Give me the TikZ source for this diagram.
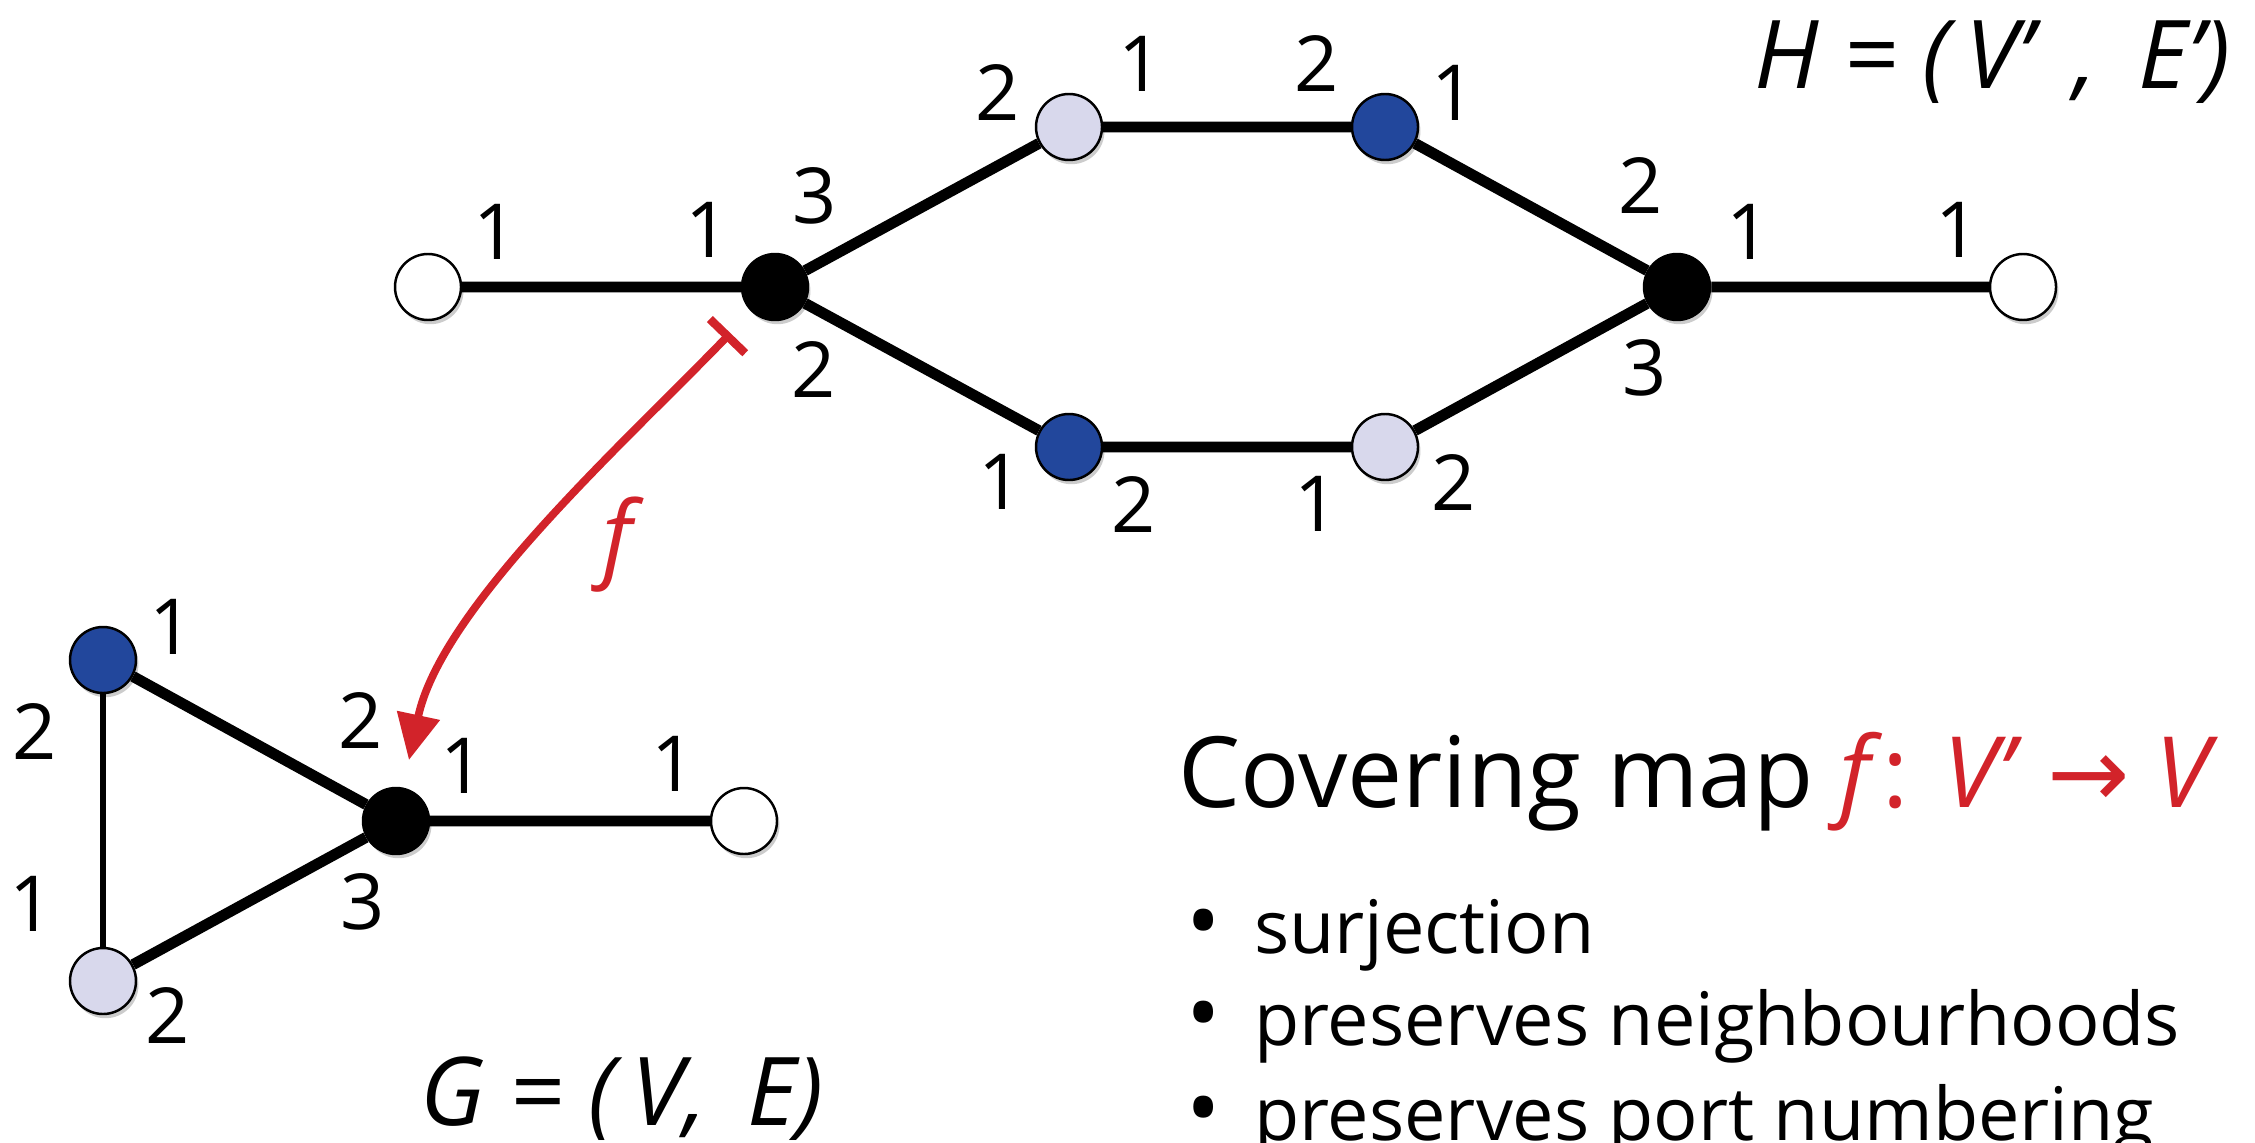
\documentclass[tikz,border=0pt]{standalone}
\usepackage{fontspec}
\setmainfont{Open Sans}
\newfontfamily\arrowfont{DejaVu Sans}
\usepackage{tikz}
\usetikzlibrary{arrows.meta}
\usetikzlibrary{shadows}
\definecolor{mapred}{RGB}{210,35,42}
\definecolor{portblue}{RGB}{34,71,156}
\definecolor{portlilac}{RGB}{216,216,236}
\newcommand{\portsize}{\fontsize{22}{26}\selectfont}
\newcommand{\namesize}{\fontsize{27}{32}\selectfont\itshape}
\tikzset{
  vtx/.style={circle,draw,line width=0.7pt,minimum size=0.66cm,inner sep=0pt,
    drop shadow={shadow xshift=0.7pt,shadow yshift=-1.2pt,opacity=0.4}},
  wvtx/.style={vtx,fill=white},
  bvtx/.style={vtx,fill=black},
  dvtx/.style={vtx,fill=portblue},
  lvtx/.style={vtx,fill=portlilac},
  port/.style={inner sep=0pt,font=\portsize},
  link/.style={line width=3.1pt},
  thinlink/.style={line width=1.8pt}
}

\begin{document}
\begin{tikzpicture}
\useasboundingbox (0,0) rectangle (22.55,11.42);
\node[wvtx] (hw1) at (4.28,8.55) {};
\node[bvtx] (hb1) at (7.75,8.55) {};
\node[lvtx] (hl1) at (10.69,10.15) {};
\node[dvtx] (hd1) at (13.85,10.15) {};
\node[dvtx] (hd2) at (10.69,6.95) {};
\node[lvtx] (hl2) at (13.85,6.95) {};
\node[bvtx] (hb2) at (16.77,8.55) {};
\node[wvtx] (hw2) at (20.23,8.55) {};
\node[dvtx] (gd) at (1.03,4.82) {};
\node[lvtx] (gl) at (1.03,1.61) {};
\node[bvtx] (gb) at (3.96,3.21) {};
\node[wvtx] (gw) at (7.44,3.21) {};

\draw[link] (hw1) -- (hb1) -- (hl1) -- (hd1) -- (hb2) -- (hw2);
\draw[link] (hb1) -- (hd2) -- (hl2) -- (hb2);
\draw[link] (gd) -- (gb) -- (gw);
\draw[link] (gl) -- (gb);
\draw[thinlink] (gd) -- (gl);

\foreach \x/\y/\t [count=\i] in {4.96/9.10/1, 7.08/9.12/1, 8.15/9.46/3, 8.14/7.72/2,
  9.98/10.49/2, 11.41/10.78/1, 13.17/10.78/2, 14.54/10.49/1,
  10.01/6.60/1, 11.34/6.38/2, 13.17/6.38/1, 14.54/6.60/2,
  16.41/9.56/2, 17.49/9.10/1, 16.45/7.74/3, 19.58/9.12/1}
  \node[port] (hp\i) at (\x,\y) {\t};
\foreach \x/\y/\t [count=\i] in {1.72/5.15/1, 0.35/4.11/2, 0.32/2.38/1, 1.68/1.27/2,
  3.61/4.22/2, 4.63/3.76/1, 3.63/2.40/3, 6.74/3.78/1}
  \node[port] (gp\i) at (\x,\y) {\t};

\draw[mapred,line width=2.2pt,{Bar[width=14pt,line width=2.4pt]}-{Triangle[length=13pt,width=12pt]},
  shorten <=8.5pt,shorten >=8pt] (hb1) to[out=226,in=78,looseness=0.8] (gb);
\node[mapred,font=\namesize] (f) at (6.17,5.97) {f};

\node[anchor=base west,font=\namesize] (hname) at (17.42,10.53) {H = (\,V’\, , \,E’)};
\node[anchor=base west,font=\namesize] (gname) at (4.08,0.17) {G = (\,V, \,E)};

\node[anchor=base west,font=\fontsize{28}{34}\selectfont] (cover) at (11.66,3.35)
  {Covering map \textcolor{mapred}{\textit{f}: \textit{V’} {\arrowfont →} \textit{V}}};
\foreach \y/\t [count=\i] in {1.89/surjection, 0.97/preserves neighbourhoods, 0.02/preserves port numbering}
  \node[anchor=base west,font=\fontsize{21}{25}\selectfont] (item\i) at (11.74,\y) {{\fontsize{26}{25}\selectfont•}\hspace{0.45em}\t};
\end{tikzpicture}
\end{document}
